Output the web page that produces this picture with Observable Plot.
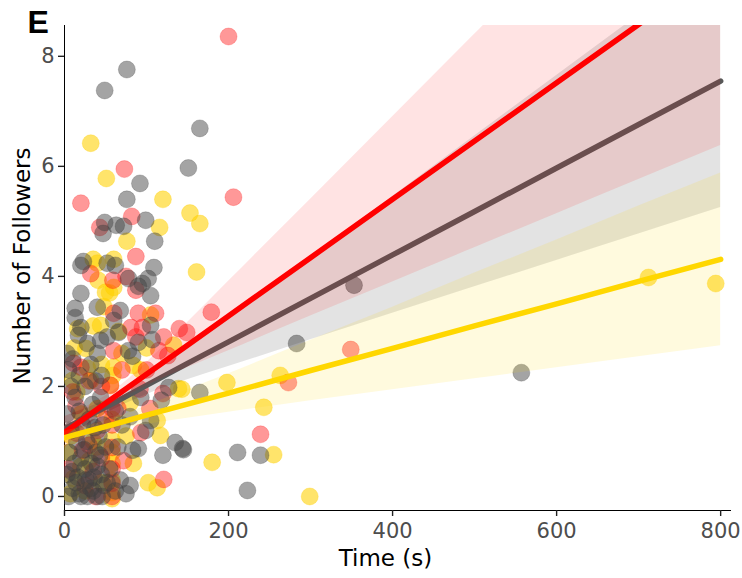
<!DOCTYPE html>
<html><head><meta charset="utf-8">
<script src="https://cdn.jsdelivr.net/npm/d3@7"></script>
<script src="https://cdn.jsdelivr.net/npm/@observablehq/plot@0.6"></script>
<style>
body{margin:0;background:#fff;}
#chart svg{display:block;}
g[aria-label^="x-axis"] text, g[aria-label^="y-axis"] text{fill:#4d4d4d;}
g[aria-label^="x-axis"] line, g[aria-label^="y-axis"] line, g[aria-label^="x-axis"] path, g[aria-label^="y-axis"] path{stroke:#222;stroke-width:1.4px;}
</style></head><body><div id="chart"></div>
<script>
// ---- data: [time (s), number of followers] ----
const grayPts = [
 [76,7.76],[49,7.38],[165,6.69],[151,5.97],[92,5.69],[76,5.4],
 [49,4.98],[63,4.93],[72,4.91],[99,5.02],[47,4.78],[110,4.64],
 [23,4.27],[52,4.24],[109,4.16],[20,4.2],[62,4.2],
 [78,3.96],[95,3.87],[102,3.96],[90,3.82],[105,3.65],[20,3.69],
 [13,3.42],[13,3.25],[40,3.44],[68,3.38],[60,3.2],
 [105,3.11],[20,3.07],[66,2.98],[17,2.93],[44,2.84],[52,2.9],[90,2.8],[28,2.78],
 [78,2.65],[107,2.85],[40,2.6],[83,2.55],
 [5,2.3],[10,2.5],[18,2.2],[25,2.0],[32,2.4],[38,2.1],[45,2.2],[8,2.0],[3,2.6],
 [13,1.8],[34,1.67],[44,1.8],[93,1.8],[127,1.98],[165,1.89],
 [105,1.38],[99,1.2],[80,1.45],[70,1.3],[62,1.55],[118,1.75],
 [135,0.98],[144,0.87],[120,0.75],[83,0.84],[90,0.87],
 [80,0.2],[145,0.85],[211,0.8],[239,0.75],[223,0.11],
 [283,2.78],[353,3.84],[557,2.25],
 [3,1.5],[8,1.2],[15,1.0],[20,0.7],[25,0.5],[30,0.3],[35,0.1],[40,0.0],[5,0.0],[10,0.15],
 [18,0.05],[28,0.0],[33,0.6],[38,0.8],[45,0.4],[42,1.1],[48,0.2],[22,1.3],[12,0.6],[3,0.4],
 [27,1.0],[46,0.0],[36,0.35],[16,0.35],[6,0.8],[40,0.55],[30,1.4],[20,0.0],[50,0.9],[55,0.5],
 [62,0.1],[65,0.9],[75,0.05],[68,0.3],
 [14,0.25],[24,0.85],[32,0.15],[43,0.75],[9,0.45],[37,1.25],[26,0.3],[47,1.3],[18,1.55],[52,0.25]
];
const redPts = [
 [200,8.36],[206,5.44],[73,5.95],[20,5.33],[82,5.09],[43,4.89],[87,4.36],[87,3.75],[32,4.05],[59,3.93],[75,4.0],
 [60,3.33],[90,3.33],[111,3.33],[95,3.07],[81,3.07],[87,2.9],[121,2.9],[60,2.65],[115,2.65],[126,2.56],
 [149,2.98],[179,3.35],[140,3.05],
 [11,2.42],[20,2.35],[100,2.3],[70,2.3],[30,2.1],[45,2.0],[56,2.02],[10,1.9],[120,1.87],[104,1.6],[65,1.6],
 [14,1.65],[58,1.6],[50,1.4],[58,1.3],[40,1.2],[93,1.16],[30,0.93],[22,0.84],[58,0.89],[72,0.65],[45,0.7],
 [5,0.5],[58,0.5],[121,0.31],[58,0.24],[25,0.2],[38,0.0],[58,0.0],
 [239,1.13],[273,2.07],[349,2.67],[92,1.95],[35,0.45],[15,1.15]
];
const yellowPts = [
 [32,6.42],[51,5.78],[120,5.4],[116,4.89],[153,5.15],[165,4.96],[76,4.64],[35,4.31],[60,4.31],[40,4.24],[161,4.08],
 [41,3.93],[60,3.8],[50,3.71],[55,3.7],[48,3.45],[35,3.1],[44,3.11],[66,3.0],[16,3.05],[105,3.3],
 [133,2.75],[26,2.69],[12,2.7],[70,2.6],[100,2.7],[28,2.33],[60,2.35],[59,2.2],[84,2.38],[93,2.3],[45,2.4],
 [10,2.11],[32,2.11],[56,2.02],
 [139,1.96],[143,1.95],[198,2.07],[263,2.2],[243,1.62],[15,1.9],[80,1.7],[40,1.6],[20,1.5],[113,1.38],[58,1.4],
 [117,1.11],[8,1.1],[75,1.1],[58,1.02],[35,1.0],[58,0.8],[5,0.8],[30,0.65],[84,0.6],[58,0.6],[11,0.33],
 [58,0.29],[45,0.25],[102,0.25],[113,0.16],[25,0.1],[7,0.05],[58,0.07],[58,-0.04],
 [180,0.62],[255,0.76],[299,0.0],[712,3.98],[794,3.87],[20,0.55],[40,0.9]
];

// ---- fitted lines and confidence bands ----
const tGrid    = [0, 30, 60, 100, 150, 200, 300, 400, 500, 600, 700, 800];
const grayFit  = [1.23, 1.47, 1.70, 2.02, 2.42, 2.81, 3.60, 4.39, 5.18, 5.97, 6.76, 7.55];
const grayLo   = [1.01, 1.32, 1.58, 1.85, 2.12, 2.36, 2.85, 3.33, 3.81, 4.29, 4.77, 5.25];
const grayHi   = [1.45, 1.62, 1.82, 2.19, 2.72, 3.26, 4.35, 5.45, 6.55, 7.65, 8.75, 9.85];
const redFit   = [1.16, 1.48, 1.80, 2.22, 2.75, 3.28, 4.34, 5.40, 6.46, 7.52, 8.58, 9.64];
const redLo    = [0.87, 1.30, 1.68, 2.01, 2.34, 2.65, 3.28, 3.90, 4.52, 5.14, 5.76, 6.38];
const redHi    = [1.45, 1.66, 1.92, 2.43, 3.16, 3.91, 5.40, 6.90, 8.40, 9.90, 11.40, 12.90];
const yellowFit= [1.07, 1.19, 1.31, 1.48, 1.68, 1.88, 2.29, 2.69, 3.10, 3.50, 3.91, 4.31];
const yellowLo = [0.95, 1.09, 1.20, 1.31, 1.42, 1.53, 1.74, 1.94, 2.14, 2.34, 2.54, 2.74];
const yellowHi = [1.19, 1.29, 1.42, 1.65, 1.94, 2.23, 2.84, 3.44, 4.06, 4.66, 5.28, 5.88];

const xTicks = [0, 200, 400, 600, 800];
const yTicks = [0, 2, 4, 6, 8];

const pts = arr => arr.map(([t, y]) => ({t, y}));
const band = (lo, fit, hi) => tGrid.map((t, i) => ({t, lo: lo[i], fit: fit[i], hi: hi[i]}));

const dots = (arr, color, op) => Plot.dot(pts(arr), {
  x: "t", y: "y", r: 8.5, fill: color, fillOpacity: op,
  stroke: color, strokeOpacity: op * 0.5, strokeWidth: 1, clip: true
});
const area = (b, color, op) => Plot.areaY(b, {x: "t", y1: "lo", y2: "hi", fill: color, fillOpacity: op, curve: "monotone-x", clip: true});
const fitLine = (b, color) => Plot.line(b, {x: "t", y: "fit", stroke: color, strokeWidth: 5.5, clip: true});

const gB = band(grayLo, grayFit, grayHi);
const rB = band(redLo, redFit, redHi);
const yB = band(yellowLo, yellowFit, yellowHi);

const chart = Plot.plot({
  width: 742, height: 578,
  marginLeft: 64, marginRight: 12, marginTop: 25, marginBottom: 68,
  style: {fontFamily: "DejaVu Sans", fontSize: "21px", background: "white", color: "black", overflow: "visible"},
  x: {domain: [0, 812], ticks: xTicks, tickSize: 6, tickPadding: 7, line: true, label: null},
  y: {domain: [-0.255, 8.56], ticks: yTicks, tickSize: 6, tickPadding: 4, line: true, label: null},
  marks: [
    dots(yellowPts, "#ffd000", 0.58),
    dots(redPts, "#ff1010", 0.43),
    dots(grayPts, "#404040", 0.48),
    area(gB, "#000000", 0.11),
    fitLine(gB, "#585858"),
    area(rB, "#ff0000", 0.11),
    fitLine(rB, "#ff0000"),
    area(yB, "#ffd700", 0.13),
    fitLine(yB, "#ffd700"),
    Plot.text(["E"], {text: d => d, frameAnchor: "top-left", dx: -37, dy: -15, lineAnchor: "top", textAnchor: "start",
      fontSize: 32, fontWeight: "bold", fontFamily: "Liberation Sans", fill: "black"}),
    Plot.text(["Number of Followers"], {text: d => d, frameAnchor: "left", dx: -42, dy: -2, rotate: -90,
      textAnchor: "middle", lineAnchor: "middle", fontSize: 23, fill: "black"}),
    Plot.text(["Time (s)"], {text: d => d, frameAnchor: "bottom", dx: -12, dy: 48,
      textAnchor: "middle", lineAnchor: "middle", fontSize: 23, fill: "black"})
  ]
});
document.getElementById("chart").appendChild(chart);
</script>
</body></html>
